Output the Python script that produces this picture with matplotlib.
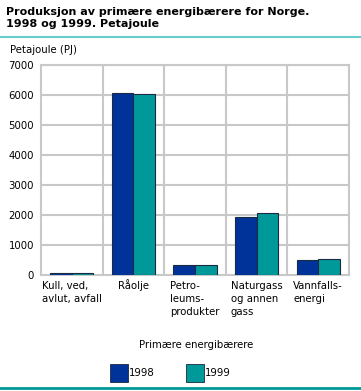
import numpy as np
import matplotlib.pyplot as plt
from matplotlib.patches import Rectangle
from matplotlib.lines import Line2D
from matplotlib.transforms import blended_transform_factory

categories = ["Kull, ved,\navlut, avfall", "Råolje", "Petro-\nleums-\nprodukter",
              "Naturgass\nog annen\ngass", "Vannfalls-\nenergi"]
years = ["1998", "1999"]
values_1998 = [75, 6055, 323, 1943, 500]
values_1999 = [75, 6023, 325, 2057, 533]

c98 = "#003399"
c99 = "#009999"
grid_c = "#c8c8c8"
fs = 7.3

fig = plt.figure(figsize=(3.61, 3.91), dpi=100)
ax = fig.add_axes([41 / 361, 116 / 391, 308 / 361, 210 / 391])

x = np.arange(len(categories))
w = 0.35
ax.bar(x - w / 2, values_1998, w, color=c98, edgecolor="#1a2a40", linewidth=0.8, zorder=3)
ax.bar(x + w / 2, values_1999, w, color=c99, edgecolor="#1a2a40", linewidth=0.8, zorder=3)

ax.set_xlim(-0.5, len(categories) - 0.5)
ax.set_ylim(0, 7000)
ax.set_yticks(range(0, 7001, 1000))
ax.set_yticklabels([str(v) for v in range(0, 7001, 1000)], fontsize=fs)
ax.set_xticks([])
ax.tick_params(axis="y", length=0, pad=5)

# category labels: block centred under the category, lines left aligned,
# every first line on the same baseline
renderer = fig.canvas.get_renderer()
for xi, cat in zip(x, categories):
    lines = cat.split("\n")
    widths = []
    for line in lines:
        t = fig.text(0, 0, line, fontsize=fs)
        widths.append(t.get_window_extent(renderer).width)
        t.remove()
    xc = ax.transData.transform((xi, 0))[0]
    left = xc - max(widths) / 2
    for k, line in enumerate(lines):
        fig.text(left / fig.bbox.width, 1 - (289 + 13 * k) / 391, line,
                 fontsize=fs, ha="left", va="baseline")

for v in range(1000, 7001, 1000):
    ax.axhline(v, color=grid_c, linewidth=1.5, zorder=1)
for b in np.arange(0.5, len(categories) - 0.5, 1.0):
    ax.axvline(b, color=grid_c, linewidth=1.5, zorder=1)
for s in ax.spines.values():
    s.set_color(grid_c)
    s.set_linewidth(1.5)

fig.text(6 / 361, 1 - 18 / 391, "Produksjon av primære energibærere for Norge.\n1998 og 1999. Petajoule",
         fontsize=8, fontweight="bold", va="center", ha="left", linespacing=1.25)
fig.add_artist(Line2D([0, 1], [1 - 37 / 391] * 2, color="#66cccc", linewidth=1.5))
fig.add_artist(Line2D([0, 1], [1 - 388 / 391] * 2, color="#009999", linewidth=2))
fig.text(10 / 361, 1 - 50 / 391, "Petajoule (PJ)", fontsize=fs, va="center", ha="left")
fig.text(196 / 361, 1 - 345 / 391, "Primære energibærere", fontsize=fs, va="center", ha="center")

for px, col, lab in [(110, c98, years[0]), (186, c99, years[1])]:
    fig.add_artist(Rectangle((px / 361, 1 - 382 / 391), 18 / 361, 18 / 391,
                             facecolor=col, edgecolor="#1a2a40", linewidth=0.6,
                             transform=fig.transFigure))
    fig.text((px + 19) / 361, 1 - 373 / 391, lab, fontsize=fs, va="center", ha="left")

fig.savefig("out.png", dpi=100)
